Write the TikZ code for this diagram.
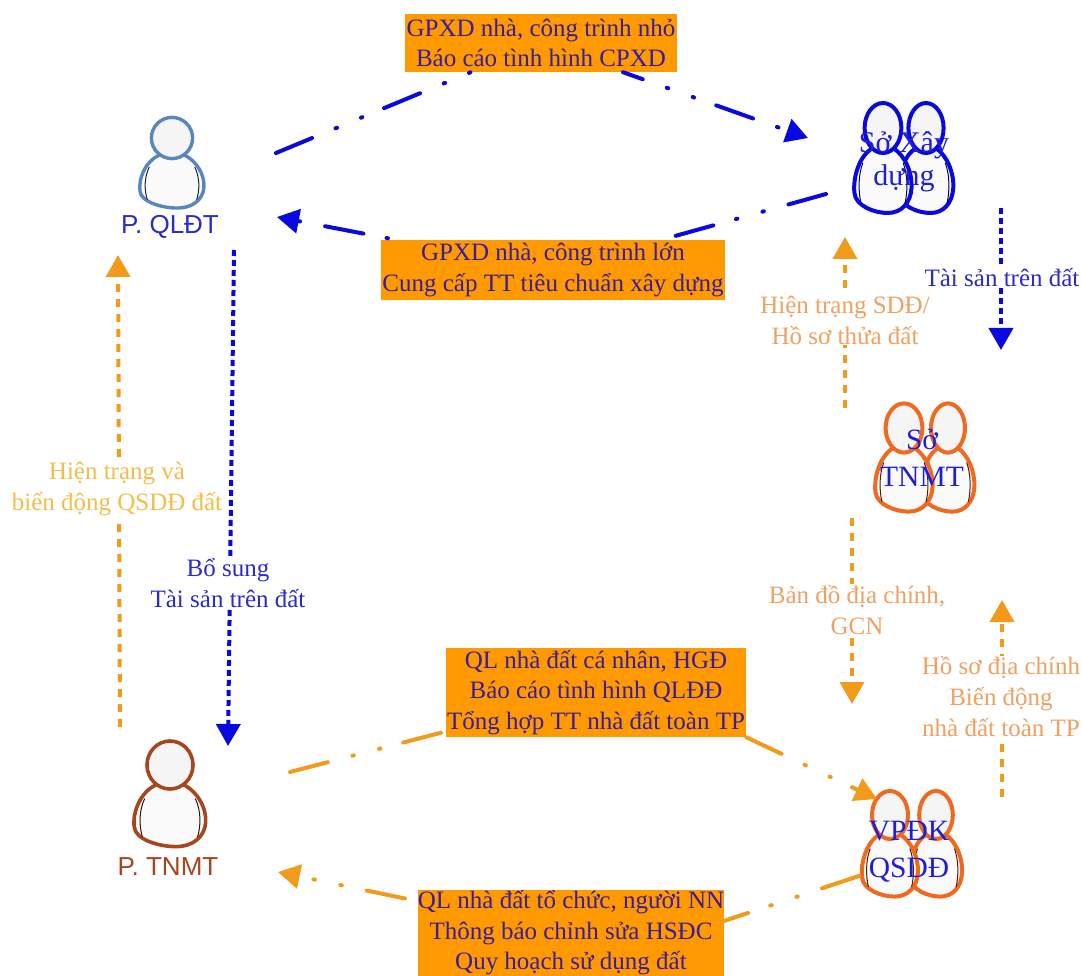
\documentclass[tikz,border=0pt]{standalone}
\usepackage{fontspec}
\setmainfont{Liberation Serif}
\newfontfamily\labsans{Liberation Sans}
\usetikzlibrary{arrows.meta}
\definecolor{boxor}{HTML}{FF9900}
\definecolor{boxtx}{HTML}{3A1C9C}
\definecolor{bluea}{HTML}{0808E0}
\definecolor{labblue}{HTML}{2B2BC8}
\definecolor{nameblue}{HTML}{1E1ED8}
\definecolor{oran}{HTML}{F29A1A}
\definecolor{ltor}{HTML}{F0A060}
\definecolor{yel}{HTML}{F2BE4A}
\definecolor{steel}{HTML}{5B86BC}
\definecolor{brn}{HTML}{A5461F}
\definecolor{ppl}{HTML}{F0691E}
\tikzset{
  x=1pt,y=-1pt,
  lab/.style={font=\fontsize{25}{31}\selectfont,align=center,inner sep=1pt,fill=white},
  boxlab/.style={font=\fontsize{25}{30.5}\selectfont,align=center,fill=boxor,text=boxtx,inner xsep=0pt,inner ysep=0pt},
  dashdot/.style={line width=4pt,line cap=round,dash pattern=on 39pt off 25.5pt on 1.5pt off 26pt on 1.5pt off 23.5pt,dash phase=#1pt},
  dashdot/.default=0,
  bigtip/.style={-{Triangle[length=22pt,width=24pt]}},
  dotv/.style={line width=4pt,dash pattern=on 6pt off 4pt,bigtip},
  dotor/.style={line width=4pt,dash pattern=on 8pt off 7pt,bigtip},
  name lab/.style={font=\fontsize{29.5}{37}\selectfont,align=center,inner sep=0pt,text=nameblue},
}
% x y xscale yscale colour linewidth
\newcommand{\personat}[6]{%
  \begin{scope}[shift={(#1,#2)},xscale=#3,yscale=#4,line width=#6pt,draw=#5]
    \draw[fill=black!2] (-11,16) .. controls (-26,22) and (-33,40) .. (-31,52)
      .. controls (-30,62) and (-10,68) .. (5,68)
      .. controls (20,68) and (30,60) .. (31,48)
      .. controls (32,36) and (24,22) .. (11,16) -- cycle;
    \draw[fill=black!4] (0,0) ellipse[x radius=20,y radius=20];
    \draw[line width=1pt,black!70!#5] (-22,28) .. controls (-27,38) and (-27,50) .. (-24,60);
    \draw[line width=1pt,black!70!#5] (22,28) .. controls (27,38) and (27,50) .. (24,60);
  \end{scope}}
\begin{document}
\begin{tikzpicture}
\useasboundingbox (0,0) rectangle (1082,976);
\fill[white] (0,0) rectangle (1082,976);
% connector ends
\coordinate (t1) at (276,153);
\coordinate (t2) at (808,138);
\coordinate (u1) at (826,194);
\coordinate (u2) at (277,217);
\coordinate (b1) at (290,772);
\coordinate (b2) at (877,799);
\coordinate (c1) at (859,876);
\coordinate (c2) at (278,872);
\coordinate (c3) at (724,921);
\coordinate (qa) at (234,250);
\coordinate (qb) at (228,746);
\coordinate (ya) at (120,727);
\coordinate (yb) at (118,255);
\coordinate (ra) at (1001,208);
\coordinate (rb) at (1001,350);
\coordinate (sa) at (845,408);
\coordinate (sb) at (845,237);
\coordinate (da) at (852,518);
\coordinate (db) at (852,704);
\coordinate (ha) at (1002,797);
\coordinate (hb) at (1002,600);
% people
\personat{172}{138}{1.03}{1.03}{steel}{3.4}
\personat{170}{765}{1.15}{1.2}{brn}{3.6}
\personat{926}{128}{.88}{1.25}{bluea}{4}
\personat{883}{128}{.92}{1.25}{bluea}{4}
\personat{948}{428}{.85}{1.23}{ppl}{4}
\personat{904}{428}{.92}{1.23}{ppl}{4}
\personat{936}{815}{.84}{1.2}{ppl}{4}
\personat{890}{815}{.9}{1.2}{ppl}{4}
% boxes
\node[boxlab,minimum width=272pt,minimum height=58pt] (n1) at (541,43) {GPXD nhà, công trình nhỏ\\Báo cáo tình hình CPXD};
\node[boxlab,minimum width=344pt,minimum height=60pt] (n2) at (553,270) {GPXD nhà, công trình lớn\\Cung cấp TT tiêu chuẩn xây dựng};
\node[boxlab,minimum width=300pt,minimum height=89pt] (n3) at (596,692.5) {QL nhà đất cá nhân, HGĐ\\Báo cáo tình hình QLĐĐ\\Tổng hợp TT nhà đất toàn TP};
\node[boxlab,minimum width=306pt,minimum height=86pt] (n4) at (571,933) {QL nhà đất tổ chức, người NN\\Thông báo chỉnh sửa HSĐC\\Quy hoạch sử dụng đất};
% arrows
\draw[dashdot,bluea] (t1) -- (n1);
\draw[dashdot=18,bluea,bigtip] (n1) -- (t2);
\draw[dashdot,bluea] (u1) -- (n2);
\draw[dashdot=84,bluea,bigtip] (n2) -- (u2);
\draw[dashdot,oran] (b1) -- (n3);
\draw[dashdot,oran,bigtip] (n3.south east) -- (b2);
\draw[dashdot,oran] (c1) -- (c3);
\draw[dashdot=104,oran,bigtip] (n4) -- (c2);
\draw[dotv,bluea] (qa) -- (qb);
\draw[dotor,oran] (ya) -- (yb);
\draw[dotv,bluea] (ra) -- (rb);
\draw[dotor,oran] (sa) -- (sb);
\draw[dotor,oran] (da) -- (db);
\draw[dotor,oran] (ha) -- (hb);
% labels
\node[lab,text=yel] (l1) at (117,489) {Hiện trạng và\\biến động QSDĐ đất};
\node[lab,text=labblue] (l2) at (228,583) {Bổ sung\\Tài sản trên đất};
\node[lab,text=labblue] (l3) at (1002,278) {Tài sản trên đất};
\node[lab,text=ltor] (l4) at (845,320) {Hiện trạng SDĐ/\\Hồ sơ thửa đất};
\node[lab,text=ltor] (l5) at (857,610) {Bản đồ địa chính,\\GCN};
\node[lab,text=ltor] (l6) at (1001,697) {Hồ sơ địa chính\\Biến động\\nhà đất toàn TP};
% person names
\node[font=\labsans\fontsize{26}{30}\selectfont,text=labblue,inner sep=0pt] (p1) at (170,227) {P. QLĐT};
\node[font=\labsans\fontsize{26}{30}\selectfont,text=brn,inner sep=0pt] (p2) at (168,867) {P. TNMT};
\node[name lab,font=\fontsize{30}{33}\selectfont] (p3) at (904,162) {Sở Xây\\dựng};
\node[name lab] (p4) at (922,458) {Sở\\TNMT};
\node[name lab] (p5) at (909,852) {VPĐK\\QSDĐ};
\end{tikzpicture}
\end{document}
